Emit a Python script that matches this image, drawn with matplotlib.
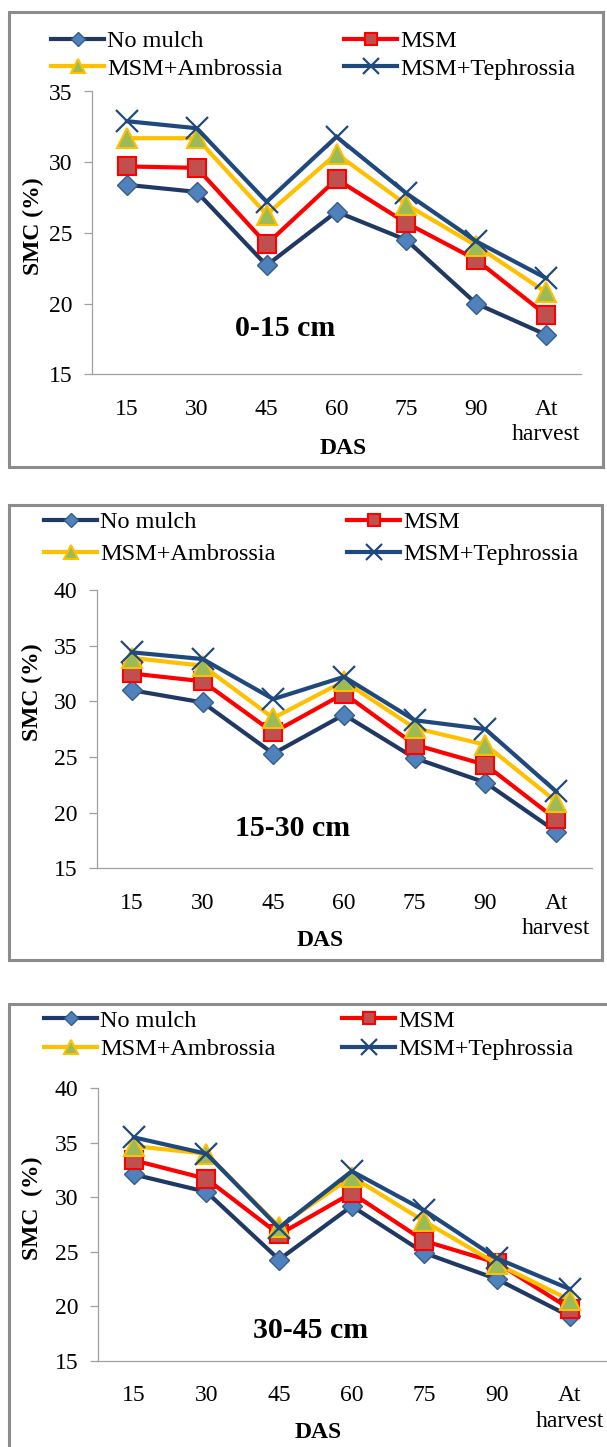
import matplotlib.pyplot as plt
from matplotlib.patches import Rectangle
from matplotlib.lines import Line2D

plt.rcParams['font.family'] = ['Liberation Serif', 'DejaVu Serif']

W, H = 607, 1447

# x categories (days after sowing)
das = ['15', '30', '45', '60', '75', '90', 'At\nharvest']
series_names = ['No mulch', 'MSM', 'MSM+Ambrossia', 'MSM+Tephrossia']

# 0-15 cm
no_mulch_1 = [28.4, 27.9, 22.7, 26.5, 24.5, 20.0, 17.8]
msm_1 = [29.7, 29.6, 24.2, 28.8, 25.7, 23.1, 19.2]
ambrossia_1 = [31.7, 31.7, 26.3, 30.6, 27.0, 24.1, 20.8]
tephrossia_1 = [32.9, 32.4, 27.2, 31.8, 27.8, 24.4, 21.8]

# 15-30 cm
no_mulch_2 = [31.0, 29.9, 25.3, 28.8, 24.9, 22.7, 18.3]
msm_2 = [32.5, 31.8, 27.2, 30.7, 26.1, 24.3, 19.4]
ambrossia_2 = [33.9, 33.2, 28.5, 31.8, 27.6, 26.1, 21.0]
tephrossia_2 = [34.4, 33.8, 30.2, 32.2, 28.3, 27.5, 21.9]

# 30-45 cm
no_mulch_3 = [32.1, 30.5, 24.3, 29.2, 24.9, 22.5, 19.1]
msm_3 = [33.4, 31.7, 26.6, 30.4, 26.0, 24.0, 19.8]
ambrossia_3 = [34.7, 34.0, 27.3, 31.9, 27.8, 23.9, 20.6]
tephrossia_3 = [35.5, 34.0, 27.2, 32.4, 28.8, 24.4, 21.6]

depths = ['0-15 cm', '15-30 cm', '30-45 cm']
ylabels = ['SMC (%)', 'SMC (%)', 'SMC  (%)']

styles = [
    dict(color='#1F3864', marker='D', markersize=10.5, markerfacecolor='#4F81BD',
         markeredgecolor='#385D8A', markeredgewidth=1),
    dict(color='#FF0000', marker='s', markersize=13, markerfacecolor='#C0504D',
         markeredgecolor='#FF0000', markeredgewidth=1.5),
    dict(color='#FFC000', marker='^', markersize=14.5, markerfacecolor='#9BBB59',
         markeredgecolor='#FFC000', markeredgewidth=1.5),
    dict(color='#1F497D', marker='x', markersize=15.5, markerfacecolor='#1F497D',
         markeredgecolor='#1F497D', markeredgewidth=1.6),
]

# panel layout in pixels
panels = [
    dict(data=[no_mulch_1, msm_1, ambrossia_1, tephrossia_1], ylim=(15, 35),
         ax=(92, 581, 91.5, 374.3), box=(8.5, 12, 603, 467),
         leg=(51, 344, 40.7, 69.3), txt=(285, 325), ylab=(33, 226), xlab=(343, 448)),
    dict(data=[no_mulch_2, msm_2, ambrossia_2, tephrossia_2], ylim=(15, 40),
         ax=(96.5, 591.5, 590, 868.3), box=(8.5, 505, 602, 960),
         leg=(44, 347, 521.7, 555), txt=(293, 825), ylab=(32, 692), xlab=(320, 940)),
    dict(data=[no_mulch_3, msm_3, ambrossia_3, tephrossia_3], ylim=(15, 40),
         ax=(97.5, 606, 1088.3, 1361), box=(8.5, 1004, 640, 1480),
         leg=(44, 342, 1020, 1050), txt=(311, 1327), ylab=(32, 1208), xlab=(318, 1432)),
]

fig = plt.figure(figsize=(W / 100, H / 100), dpi=100)
fig.patch.set_facecolor('white')


def fx(x):
    return x / W


def fy(y):
    return 1 - y / H


for i, p in enumerate(panels):
    bx0, by0, bx1, by1 = p['box']
    fig.patches.append(Rectangle((fx(bx0), fy(by1)), fx(bx1 - bx0), (by1 - by0) / H,
                                 transform=fig.transFigure, fill=False,
                                 edgecolor='#8C8C8C', linewidth=2.2))

    l, r, t, b = p['ax']
    ax = fig.add_axes([fx(l), fy(b), fx(r - l), (b - t) / H])
    x = list(range(len(das)))
    for vals, st in zip(p['data'], styles):
        ax.plot(x, vals, linewidth=3, solid_joinstyle='miter', **st)

    ax.set_xlim(-0.5, len(das) - 0.5)
    ax.set_ylim(*p['ylim'])
    ax.set_yticks(range(p['ylim'][0], p['ylim'][1] + 1, 5))
    ax.set_xticks(x)
    ax.set_xticklabels(das, linespacing=1.3)
    for s in ['top', 'right']:
        ax.spines[s].set_visible(False)
    for s in ['left', 'bottom']:
        ax.spines[s].set_color('#A0A0A0')
        ax.spines[s].set_linewidth(0.9)
    ax.tick_params(axis='x', length=0, pad=17.5, labelsize=17)
    ax.tick_params(axis='y', length=6, width=0.9, color='#A0A0A0', pad=8, labelsize=17)
    ax.patch.set_alpha(0)

    fig.text(fx(p['txt'][0]), fy(p['txt'][1]), depths[i], fontsize=21.5,
             fontweight='bold', ha='center', va='center_baseline')
    fig.text(fx(p['ylab'][0]), fy(p['ylab'][1]), ylabels[i], fontsize=17,
             fontweight='bold', rotation=90, ha='center', va='center')
    fig.text(fx(p['xlab'][0]), fy(p['xlab'][1]), 'DAS', fontsize=17,
             fontweight='bold', ha='center', va='center')

    # legend: two columns placed separately
    c1, c2, r1, r2 = p['leg']
    handles = [Line2D([], [], linewidth=3, **st) for st in styles]
    for col_x, idx in [(c1, [0, 2]), (c2, [1, 3])]:
        fig.legend([handles[k] for k in idx], [series_names[k] for k in idx],
                   loc='center left', bbox_to_anchor=(fx(col_x), fy((r1 + r2) / 2)),
                   frameon=False, fontsize=17.5, borderpad=0, handlelength=2.2,
                   handletextpad=0.12, labelspacing=(r2 - r1) / 24.3 - 0.95,
                   markerscale=0.7, borderaxespad=0)

fig.savefig('out.png', dpi=100, facecolor='white')
